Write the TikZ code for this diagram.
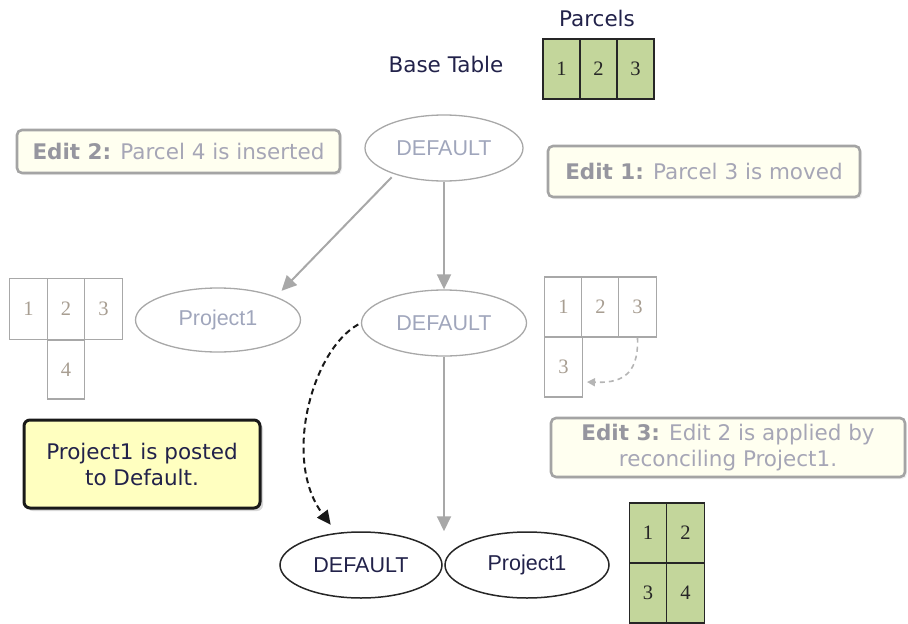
\documentclass[tikz,border=0pt]{standalone}
\usepackage{fontspec}
\setmainfont{DejaVu Sans}
\newfontfamily\arialf{Liberation Sans}
\newfontfamily\timesf{Liberation Serif}
\usetikzlibrary{arrows.meta,shadows,shapes.geometric,calc}

\definecolor{greenf}{HTML}{C3D69B}
\definecolor{gline}{HTML}{A8A8A8}
\definecolor{softblue}{HTML}{A0A6BC}
\definecolor{navyt}{HTML}{22224A}
\definecolor{cream}{HTML}{FFFFF0}
\definecolor{postfill}{HTML}{FFFFC0}
\definecolor{boxline}{HTML}{A4A4A4}
\definecolor{edithead}{HTML}{96969F}
\definecolor{edittext}{HTML}{A6A6B6}
\definecolor{digitgray}{HTML}{A89E92}

\tikzset{
  labelfont/.style={font=\fontsize{21.5}{26}\selectfont},
  cellg/.style={draw=black!85, line width=1.4pt, fill=greenf, inner sep=0pt,
    minimum width=37pt, minimum height=60pt,
    font=\timesf\fontsize{20.5}{23}\selectfont, text=black!85},
  cellw/.style={draw=gline, line width=1.4pt, fill=white, inner sep=0pt,
    minimum width=37.5pt, minimum height=60pt,
    font=\timesf\fontsize{20.5}{23}\selectfont, text=digitgray},
  vergray/.style={ellipse, draw=gline, line width=1.3pt, inner sep=0pt,
    minimum width=162pt, minimum height=65pt,
    font=\arialf\fontsize{21.5}{24}\selectfont, text=softblue},
  verblack/.style={vergray, draw=black!85, line width=1.5pt, text=navyt},
  editbox/.style={draw=boxline, line width=2.6pt, fill=cream, rounded corners=5pt,
    inner sep=0pt, align=center, labelfont, text=edittext,
    drop shadow={shadow xshift=2pt, shadow yshift=-2pt, opacity=0.12}},
  postbox/.style={draw=black!90, line width=3pt, fill=postfill, rounded corners=6pt,
    inner sep=0pt, align=center, labelfont, text=navyt,
    drop shadow={shadow xshift=3pt, shadow yshift=-3pt, opacity=0.3}},
  garrow/.style={draw=gline, line width=2pt, -{Triangle[length=15pt,width=14pt]}},
  barrow/.style={draw=black!90, line width=2pt, dash pattern=on 6pt off 4pt,
    -{Triangle[length=14pt,width=13pt]}},
  smallarrow/.style={draw=gline!85, line width=1.6pt, dash pattern=on 5pt off 4pt,
    -{Triangle[length=8pt,width=8pt]}},
}

\begin{document}
\begin{tikzpicture}[x=1pt,y=-1pt]
\useasboundingbox (0,0) rectangle (908,624);

% header and base table
\node[labelfont, text=navyt] (parcels) at (597,18) {Parcels};
\node[labelfont, text=navyt] (basetitle) at (446,64) {Base Table};
\node[cellg] (b1) at (561.5,69) {1};
\node[cellg] (b2) at (598.5,69) {2};
\node[cellg] (b3) at (635.5,69) {3};

% edit notes
\node[editbox, minimum width=323pt, minimum height=43pt] (edit2) at (178.5,151.5)
  {\textbf{\textcolor{edithead}{Edit 2:}} Parcel 4 is inserted};
\node[editbox, minimum width=312pt, minimum height=51pt] (edit1) at (704,171.5)
  {\textbf{\textcolor{edithead}{Edit 1:}} Parcel 3 is moved};
\node[editbox, minimum width=354pt, minimum height=59pt] (edit3) at (728,447.5)
  {\textbf{\textcolor{edithead}{Edit 3:}} Edit 2 is applied by\\reconciling Project1.};
\node[postbox, minimum width=236pt, minimum height=88pt] (posted) at (142,464)
  {Project1 is posted\\to Default.};

% versions
\node[vergray, minimum width=158pt, minimum height=66pt] (d0) at (444,148) {DEFAULT};
\node[vergray, minimum width=165pt, minimum height=64pt] (p1) at (218,320) {Project1};
\node[vergray, minimum width=165pt, minimum height=66pt] (d1) at (444,323) {DEFAULT};
\node[verblack, minimum width=162pt, minimum height=66pt] (d2) at (361,565) {DEFAULT};
\node[verblack, minimum width=164pt, minimum height=66pt] (p2) at (527,565) {Project1};

% parcels after edit 2 (left)
\node[cellw, minimum height=61pt] (l1) at (28.5,309) {1};
\node[cellw, minimum height=61pt] (l2) at (66,309) {2};
\node[cellw, minimum height=61pt] (l3) at (103.5,309) {3};
\node[cellw, minimum height=59pt] (l4) at (66,369.5) {4};

% parcels after edit 1 (right)
\node[cellw] (r1) at (563.5,307) {1};
\node[cellw] (r2) at (600.5,307) {2};
\node[cellw] (r3) at (637.5,307) {3};
\node[cellw] (r4) at (563.5,367) {3};

% final parcels
\node[cellg, minimum width=37.5pt] (f1) at (648,533) {1};
\node[cellg, minimum width=37.5pt] (f2) at (685.5,533) {2};
\node[cellg, minimum width=37.5pt] (f3) at (648,593) {3};
\node[cellg, minimum width=37.5pt] (f4) at (685.5,593) {4};

% connectors
\draw[garrow, shorten <=4pt, shorten >=8pt] (d0.208) -- (p1.22);
\draw[garrow] (d0.south) -- (d1.north);
\coordinate (join) at (d1.south |- d2.north);
\draw[garrow] (d1.south) -- (join);
\draw[barrow, shorten <=3pt, shorten >=10pt]
  (d1.west) .. controls (312,350) and (282,460) .. (d2.127);
\coordinate (moved) at ([xshift=4pt, yshift=-15pt]r4.east);
\draw[smallarrow] (r3.south) .. controls (639,378) and (618,383) .. (moved);
\end{tikzpicture}
\end{document}
